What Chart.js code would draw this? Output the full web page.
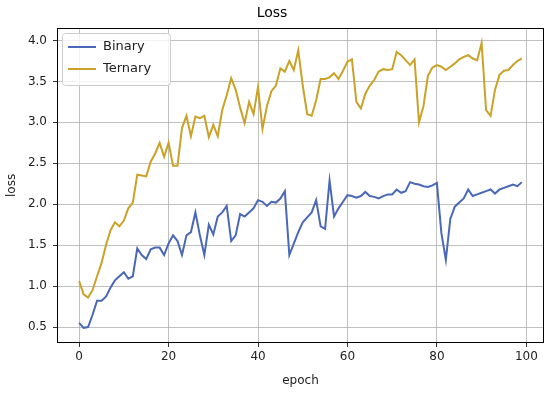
<!DOCTYPE html>
<html>
<head>
<meta charset="utf-8">
<script src="https://cdn.jsdelivr.net/npm/chart.js@4.4.1/dist/chart.umd.min.js"></script>
<style>
    body { margin: 0; background: #fff; }
    #wrap { width: 550px; height: 393px; }
</style>
</head>
<body>
<div id="wrap"><canvas id="lossChart" width="550" height="393"></canvas></div>
<script>
/* ================= DATA ================= */
const epochs = Array.from({ length: 100 }, (_, i) => i);

const binary = [
    0.55, 0.49, 0.50, 0.65, 0.82, 0.82, 0.87, 0.98, 1.07, 1.12,
    1.17, 1.09, 1.12, 1.46, 1.38, 1.33, 1.45, 1.47, 1.47, 1.38,
    1.52, 1.62, 1.55, 1.38, 1.62, 1.66, 1.90, 1.62, 1.38, 1.75,
    1.63, 1.85, 1.90, 1.98, 1.55, 1.62, 1.88, 1.85, 1.90, 1.95,
    2.05, 2.03, 1.98, 2.03, 2.02, 2.07, 2.16, 1.38, 1.52, 1.66,
    1.78, 1.84, 1.90, 2.05, 1.73, 1.70, 2.29, 1.85, 1.95, 2.03,
    2.11, 2.10, 2.08, 2.10, 2.15, 2.10, 2.09, 2.07, 2.10, 2.12,
    2.12, 2.18, 2.14, 2.16, 2.27, 2.25, 2.24, 2.22, 2.21, 2.23,
    2.26, 1.65, 1.32, 1.82, 1.97, 2.02, 2.07, 2.18, 2.10, 2.12,
    2.14, 2.16, 2.18, 2.13, 2.18, 2.20, 2.22, 2.24, 2.22, 2.27
];

const ternary = [
    1.06, 0.90, 0.86, 0.95, 1.12, 1.28, 1.50, 1.68, 1.78, 1.73,
    1.80, 1.95, 2.02, 2.36, 2.35, 2.34, 2.52, 2.62, 2.75, 2.58,
    2.75, 2.47, 2.47, 2.93, 3.08, 2.83, 3.07, 3.05, 3.08, 2.82,
    2.97, 2.83, 3.15, 3.33, 3.54, 3.40, 3.18, 2.99, 3.25, 3.10,
    3.43, 2.92, 3.20, 3.38, 3.45, 3.66, 3.62, 3.75, 3.64, 3.88,
    3.45, 3.10, 3.08, 3.27, 3.53, 3.53, 3.55, 3.60, 3.53, 3.63,
    3.74, 3.77, 3.25, 3.17, 3.35, 3.45, 3.52, 3.62, 3.65, 3.64,
    3.65, 3.86, 3.82, 3.76, 3.70, 3.77, 3.00, 3.20, 3.57, 3.67,
    3.70, 3.68, 3.64, 3.68, 3.72, 3.77, 3.80, 3.82, 3.78, 3.76,
    3.97, 3.15, 3.08, 3.40, 3.58, 3.63, 3.64, 3.70, 3.75, 3.78
];

const xTicks = [0, 20, 40, 60, 80, 100];
const yTicks = [0.5, 1.0, 1.5, 2.0, 2.5, 3.0, 3.5, 4.0];

const FONT = "'DejaVu Sans', sans-serif";
const TEXT = "#222";

/* ================= PLUGINS ================= */
// full black frame round the plot, like matplotlib spines
const frame = {
    id: "frame",
    afterDatasetsDraw(chart) {
        const { ctx, chartArea: a } = chart;
        const l = Math.round(a.left), t = Math.round(a.top);
        const r = Math.round(a.right), b = Math.round(a.bottom);
        ctx.save();
        ctx.strokeStyle = "#000";
        ctx.lineWidth = 1;
        ctx.strokeRect(l + 0.5, t + 0.5, r - l - 1, b - t - 1);
        ctx.restore();
    }
};

// legend drawn inside the plot, upper left
const innerLegend = {
    id: "innerLegend",
    afterDraw(chart) {
        const { ctx, chartArea: a } = chart;
        const x = Math.round(a.left) + 5, y = Math.round(a.top) + 5, w = 108, h = 52, r = 3;
        ctx.save();
        ctx.fillStyle = "rgba(255,255,255,0.8)";
        ctx.strokeStyle = "#cccccc";
        ctx.lineWidth = 1;
        ctx.beginPath();
        ctx.roundRect(x + 0.5, y + 0.5, w, h, r);
        ctx.fill();
        ctx.stroke();

        ctx.font = "13px " + FONT;
        ctx.textBaseline = "middle";
        chart.data.datasets.forEach((ds, i) => {
            const ly = y + 14 + i * 22;
            ctx.strokeStyle = ds.borderColor;
            ctx.lineWidth = 2;
            ctx.beginPath();
            ctx.moveTo(x + 6, ly);
            ctx.lineTo(x + 34, ly);
            ctx.stroke();
            ctx.fillStyle = TEXT;
            ctx.fillText(ds.label, x + 41, ly);
        });
        ctx.restore();
    }
};

/* ================= CHART ================= */
new Chart(document.getElementById("lossChart"), {
    type: "line",
    data: {
        labels: epochs,
        datasets: [
            {
                label: "Binary",
                data: binary,
                borderColor: "#4a68b6",
                borderWidth: 2,
                pointRadius: 0,
                tension: 0
            },
            {
                label: "Ternary",
                data: ternary,
                borderColor: "#c9a227",
                borderWidth: 2,
                pointRadius: 0,
                tension: 0
            }
        ]
    },
    options: {
        responsive: false,
        animation: false,
        layout: { padding: { left: 0, right: 6, top: 0, bottom: 0 } },
        plugins: {
            legend: { display: false },
            tooltip: { enabled: false },
            title: {
                display: true,
                text: "Loss",
                color: "#000",
                font: { family: FONT, size: 14, weight: "normal" },
                padding: { top: 5, bottom: 6 }
            }
        },
        scales: {
            x: {
                type: "linear",
                min: -4.95,
                max: 103.95,
                afterBuildTicks: s => { s.ticks = xTicks.map(v => ({ value: v })); },
                afterFit: s => { s.height = 50; },
                ticks: {
                    autoSkip: false,
                    maxRotation: 0,
                    padding: 3,
                    color: TEXT,
                    font: { family: FONT, size: 12 },
                    callback: v => String(v)
                },
                grid: { color: "#b0b0b0", lineWidth: 0.8, tickColor: "#000", tickLength: 4 },
                border: { display: false },
                title: {
                    display: true,
                    text: "epoch",
                    color: TEXT,
                    font: { family: FONT, size: 12 },
                    padding: { top: 0, bottom: 5 }
                }
            },
            y: {
                min: 0.305,
                max: 4.155,
                afterBuildTicks: s => { s.ticks = yTicks.map(v => ({ value: v })); },
                afterFit: s => { s.width = 57; },
                ticks: {
                    autoSkip: false,
                    padding: 6,
                    color: TEXT,
                    font: { family: FONT, size: 12 },
                    callback: v => v.toFixed(1)
                },
                grid: { color: "#b0b0b0", lineWidth: 0.8, tickColor: "#000", tickLength: 4 },
                border: { display: false },
                title: {
                    display: true,
                    text: "loss",
                    color: TEXT,
                    font: { family: FONT, size: 12 },
                    padding: { top: 5, bottom: 0 }
                }
            }
        }
    },
    plugins: [frame, innerLegend]
});
</script>
</body>
</html>
